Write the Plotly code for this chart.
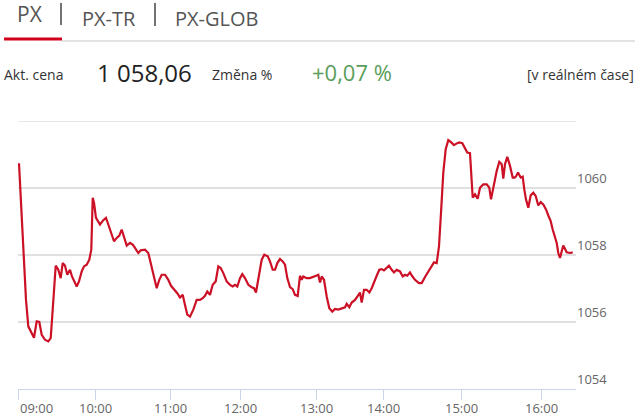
import plotly.graph_objects as go

# ---- data ----
# position along the session axis (sample step units) and PX index value
session_step = [
    1.0, 3.7, 6.0, 8.0, 10.3, 13.7, 16.0, 18.7, 21.3, 23.7, 27.0, 30.3, 32.7, 34.7, 36.3, 37.7,
    40.3, 42.7, 44.7, 47.0, 49.3, 52.0, 54.0, 56.3, 58.7, 61.0, 63.7, 66.0, 68.7, 71.3, 73.3,
    74.7, 76.0, 78.0, 80.3, 82.0, 85.3, 88.0, 90.3, 93.0, 96.0, 98.7, 101.3, 103.7, 106.0,
    108.7, 112.0, 114.7, 117.0, 120.3, 122.7, 127.0, 130.3, 132.7, 135.3, 138.7, 141.3, 143.7,
    147.0, 150.3, 153.0, 156.0, 159.3, 162.0, 164.7, 167.0, 169.3, 172.0, 175.3, 178.7, 182.0,
    184.7, 187.0, 189.3, 192.0, 194.7, 197.7, 200.3, 202.7, 205.3, 208.7, 212.0, 214.7, 217.0,
    219.3, 222.0, 224.3, 227.0, 230.3, 233.7, 236.0, 238.0, 240.3, 243.7, 246.3, 249.7, 252.0,
    254.7, 257.0, 259.3, 262.0, 264.7, 267.0, 269.3, 272.0, 274.7, 277.0, 279.7, 282.0, 283.7,
    285.3, 288.7, 292.0, 295.3, 298.7, 300.3, 302.0, 303.7, 306.0, 308.7, 311.3, 314.3, 317.0,
    320.3, 323.7, 327.0, 328.7, 331.3, 333.7, 337.0, 339.3, 342.0, 343.7, 346.0, 348.7, 351.3,
    353.7, 356.0, 358.7, 361.3, 363.7, 366.0, 368.7, 371.0, 373.7, 376.0, 378.7, 382.0, 384.7,
    387.0, 389.3, 392.0, 394.0, 397.0, 401.0, 403.7, 407.3, 410.3, 413.7, 416.0, 418.7, 421.0,
    423.0, 425.3, 427.7, 430.3, 433.0, 436.0, 438.7, 441.3, 444.3, 447.0, 449.3, 452.0, 453.7,
    454.7, 457.0, 459.7, 462.0, 465.3, 468.7, 471.3, 473.0, 476.0, 478.7, 481.3, 483.7, 485.3,
    487.0, 489.3, 492.0, 494.7, 496.7, 498.3, 500.0, 502.7, 504.7, 506.3, 508.0, 510.3, 512.7,
    515.3, 517.7, 520.3, 522.7, 525.3, 528.0, 530.3, 532.7, 534.7, 537.0, 538.7, 540.3, 542.0,
    543.7, 545.3, 548.7, 552.0, 554.7,
]
px_value = [
    1060.74, 1059.16, 1058.16, 1056.66, 1055.87, 1055.68, 1055.53, 1056.02, 1056.00, 1055.62,
    1055.47, 1055.42, 1055.52, 1056.37, 1057.16, 1057.68, 1057.56, 1057.31, 1057.76, 1057.68,
    1057.41, 1057.56, 1057.36, 1057.21, 1057.06, 1057.21, 1057.51, 1057.66, 1057.71, 1057.86,
    1058.16, 1059.71, 1059.56, 1059.11, 1059.01, 1058.91, 1059.04, 1059.11, 1058.91, 1058.66,
    1058.41, 1058.51, 1058.58, 1058.76, 1058.51, 1058.28, 1058.36, 1058.31, 1058.21, 1058.06,
    1058.14, 1058.16, 1058.06, 1057.76, 1057.36, 1057.01, 1057.26, 1057.41, 1057.41, 1057.26,
    1057.08, 1056.98, 1056.86, 1056.73, 1056.81, 1056.51, 1056.22, 1056.16, 1056.37, 1056.66,
    1056.66, 1056.71, 1056.78, 1056.91, 1056.81, 1057.11, 1057.21, 1057.66, 1057.61, 1057.46,
    1057.21, 1057.11, 1057.06, 1057.11, 1057.06, 1057.31, 1057.43, 1057.31, 1057.11, 1057.04,
    1057.01, 1056.88, 1057.31, 1057.86, 1058.01, 1057.96, 1057.81, 1057.56, 1057.56, 1057.76,
    1057.88, 1057.81, 1057.71, 1057.31, 1057.04, 1056.98, 1056.81, 1056.78, 1057.38, 1057.26,
    1057.36, 1057.31, 1057.31, 1057.34, 1057.39, 1057.41, 1057.18, 1057.36, 1057.26, 1056.76,
    1056.41, 1056.31, 1056.39, 1056.37, 1056.41, 1056.44, 1056.54, 1056.44, 1056.58, 1056.66,
    1056.76, 1056.88, 1056.58, 1056.96, 1056.96, 1056.88, 1057.01, 1057.21, 1057.38, 1057.56,
    1057.58, 1057.54, 1057.61, 1057.68, 1057.56, 1057.48, 1057.56, 1057.51, 1057.36, 1057.41,
    1057.38, 1057.48, 1057.38, 1057.26, 1057.16, 1057.16, 1057.36, 1057.51, 1057.66, 1057.78,
    1057.76, 1058.26, 1059.26, 1060.46, 1061.16, 1061.43, 1061.37, 1061.28, 1061.33, 1061.36,
    1061.34, 1061.21, 1061.06, 1061.04, 1060.36, 1059.71, 1059.81, 1059.68, 1060.01, 1060.11,
    1060.11, 1060.01, 1059.66, 1060.11, 1060.51, 1060.78, 1060.71, 1060.28, 1060.71, 1060.93,
    1060.66, 1060.31, 1060.31, 1060.36, 1060.46, 1060.31, 1060.34, 1059.96, 1059.66, 1059.41,
    1059.78, 1059.86, 1059.76, 1059.48, 1059.58, 1059.51, 1059.36, 1059.18, 1059.01, 1058.76,
    1058.48, 1058.36, 1058.06, 1057.91, 1058.11, 1058.28, 1058.08, 1058.06, 1058.08, 1058.08,
]
hour_labels = ["09:00", "10:00", "11:00", "12:00", "13:00", "14:00", "15:00", "16:00"]
hour_steps = [0, 77.6, 152, 222, 298, 365, 443.5, 523.5]
y_ticks = [1054, 1056, 1058, 1060, 1062]
y_ticktext = ["1054", "1056", "1058", "1060", ""]

tabs = ["PX", "PX-TR", "PX-GLOB"]
price_label = "Akt. cena"
price_value = "1 058,06"
change_label = "Změna %"
change_value = "+0,07 %"
realtime_note = "[v reálném čase]"

# ---- layout geometry ----
W, H = 640, 417
ML, MR, MT, MB = 18, 64, 121, 28
PW, PH = W - ML - MR, H - MT - MB
FONT = "Open Sans, Segoe UI, DejaVu Sans, sans-serif"


def paper(px, py):
    return (px - ML) / PW, (H - MB - py) / PH


fig = go.Figure()
fig.add_trace(go.Scatter(
    x=session_step, y=px_value, mode="lines",
    line=dict(color="#cc1126", width=2.2), hoverinfo="skip", showlegend=False,
))

annotations = []


def text(s, px, py, size, color, anchor="left"):
    x, y = paper(px, py)
    annotations.append(dict(text=s, x=x, y=y, xref="paper", yref="paper",
                            xanchor=anchor, yanchor="middle", showarrow=False,
                            font=dict(family=FONT, size=size, color=color)))


text(tabs[0], 15, 14, 21, "#555555")
text(tabs[1], 80, 18, 20, "#555555")
text(tabs[2], 173, 18, 20, "#555555")
text(price_label, 2, 74, 14, "#333333")
text(price_value, 95, 72, 24, "#222222")
text(change_label, 210, 74, 14, "#333333")
text(change_value, 310, 72, 22, "#5a9d5a")
text(realtime_note, 636, 74, 14, "#333333", anchor="right")

# x tick labels (first one left-aligned, as in the source)
for i, (lab, st) in enumerate(zip(hour_labels, hour_steps)):
    annotations.append(dict(text=lab, x=st, y=paper(0, 408)[1], xref="x", yref="paper",
                            xanchor="left" if i == 0 else "center", yanchor="middle",
                            showarrow=False,
                            font=dict(family=FONT, size=13, color="#666666")))

shapes = []


def hline(x0, x1, y, color, width):
    a0, b = paper(x0, y)
    a1, _ = paper(x1, y)
    shapes.append(dict(type="line", xref="paper", yref="paper", x0=a0, x1=a1, y0=b, y1=b,
                       line=dict(color=color, width=width)))


def vline(x, y0, y1, color, width):
    a, b0 = paper(x, y0)
    _, b1 = paper(x, y1)
    shapes.append(dict(type="line", xref="paper", yref="paper", x0=a, x1=a, y0=b0, y1=b1,
                       line=dict(color=color, width=width)))


hline(62, 635, 41, "#e3e3e3", 2)
hline(4, 62, 39, "#d0021b", 3)
vline(61, 3, 25, "#444444", 1.5)
vline(155, 3, 26, "#444444", 1.5)
# top gridline at the upper end of the value range
shapes.append(dict(type="line", xref="paper", yref="y", x0=0, x1=1, y0=y_ticks[-1], y1=y_ticks[-1],
                   line=dict(color="#e0e0e0", width=1.5), layer="below"))

fig.update_layout(
    width=W, height=H,
    margin=dict(l=ML, r=MR, t=MT, b=MB, pad=0),
    paper_bgcolor="white", plot_bgcolor="white",
    font=dict(family=FONT, size=13, color="#666666"),
    annotations=annotations, shapes=shapes,
    xaxis=dict(range=[0, PW], showgrid=False, zeroline=False,
               showline=True, linecolor="#ccd6eb", linewidth=1,
               ticks="outside", ticklen=10, tickcolor="#ccd6eb", tickwidth=1,
               tickvals=hour_steps, ticktext=[""] * len(hour_steps), fixedrange=True),
    yaxis=dict(range=[1054, 1062], side="right", tickvals=y_ticks, ticktext=y_ticktext,
               showgrid=True, gridcolor="#e0e0e0", gridwidth=1.5, zeroline=False,
               showline=False, ticks="", ticklabelposition="outside top",
               tickfont=dict(family=FONT, size=13, color="#666666"), fixedrange=True),
)

fig.write_html("out.html", config={"displayModeBar": False},
               post_script="document.body.style.margin='0';document.body.style.overflow='hidden';")
